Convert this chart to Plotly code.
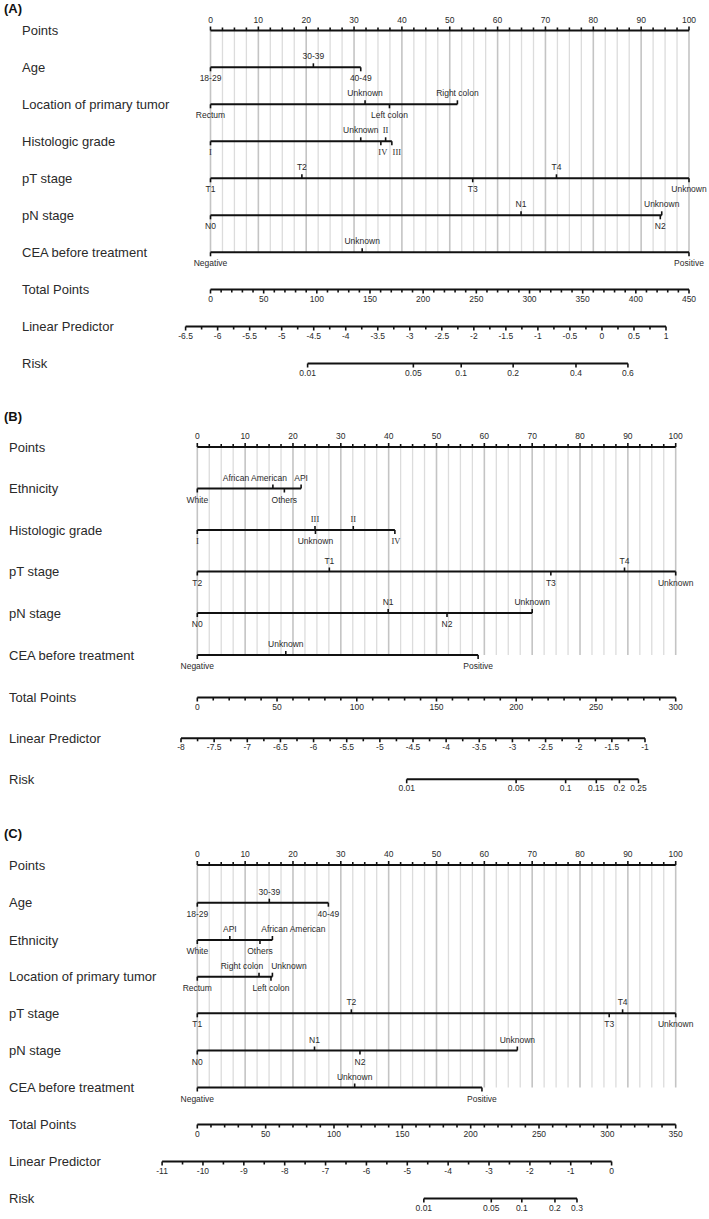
import math
import plotly.graph_objects as go

# ======================= DATA =======================
# ---- Panel A ----
A_age_lv = ["18-29", "30-39", "40-49"]
A_age_pt = [0, 21.5, 31.4]
A_age_side = ["below", "above", "below"]
A_loc_lv = ["Rectum", "Unknown", "Left colon", "Right colon"]
A_loc_pt = [0, 32.3, 37.4, 51.6]
A_loc_side = ["below", "above", "below", "above"]
A_grade_lv = ["I", "Unknown", "IV", "II", "III"]
A_grade_pt = [0, 31.4, 35.6, 36.6, 37.9]
A_grade_side = ["below", "above", "below", "above", "below"]
A_pt_lv = ["T1", "T2", "T3", "T4", "Unknown"]
A_pt_pt = [0, 19.1, 54.8, 72.3, 100]
A_pt_side = ["below", "above", "below", "above", "below"]
A_pn_lv = ["N0", "N1", "N2", "Unknown"]
A_pn_pt = [0, 64.9, 94.0, 94.3]
A_pn_side = ["below", "above", "below", "above"]
A_cea_lv = ["Negative", "Unknown", "Positive"]
A_cea_pt = [0, 31.7, 100]
A_cea_side = ["below", "above", "below"]
A_total_range = [0, 450]
A_lp_range = [-6.5, 1]
A_risk_ticks = [0.01, 0.05, 0.1, 0.2, 0.4, 0.6]

# ---- Panel B ----
B_eth_lv = ["White", "African American", "Others", "API"]
B_eth_pt = [0, 15.8, 18.2, 21.7]
B_eth_side = ["below", "above", "below", "above"]
B_grade_lv = ["I", "III", "Unknown", "II", "IV"]
B_grade_pt = [0, 24.6, 24.7, 32.6, 41.3]
B_grade_side = ["below", "above", "below", "above", "below"]
B_pt_lv = ["T2", "T1", "T3", "T4", "Unknown"]
B_pt_pt = [0, 27.6, 73.9, 89.3, 100]
B_pt_side = ["below", "above", "below", "above", "below"]
B_pn_lv = ["N0", "N1", "N2", "Unknown"]
B_pn_pt = [0, 39.9, 52.2, 70.0]
B_pn_side = ["below", "above", "below", "above"]
B_cea_lv = ["Negative", "Unknown", "Positive"]
B_cea_pt = [0, 18.5, 58.7]
B_cea_side = ["below", "above", "below"]
B_total_range = [0, 300]
B_lp_range = [-8, -1]
B_risk_ticks = [0.01, 0.05, 0.1, 0.15, 0.2, 0.25]

# ---- Panel C ----
C_age_lv = ["18-29", "30-39", "40-49"]
C_age_pt = [0, 15.05, 27.4]
C_age_side = ["below", "above", "below"]
C_eth_lv = ["White", "API", "Others", "African American"]
C_eth_pt = [0, 6.8, 13.1, 15.7]
C_eth_side = ["below", "above", "below", "above"]
C_loc_lv = ["Rectum", "Right colon", "Left colon", "Unknown"]
C_loc_pt = [0, 12.9, 15.4, 15.7]
C_loc_side = ["below", "above", "below", "above"]
C_pt_lv = ["T1", "T2", "T3", "T4", "Unknown"]
C_pt_pt = [0, 32.2, 86.1, 88.9, 100]
C_pt_side = ["below", "above", "below", "above", "below"]
C_pn_lv = ["N0", "N1", "N2", "Unknown"]
C_pn_pt = [0, 24.5, 34.0, 66.9]
C_pn_side = ["below", "above", "below", "above"]
C_cea_lv = ["Negative", "Unknown", "Positive"]
C_cea_pt = [0, 32.9, 59.5]
C_cea_side = ["below", "above", "below"]
C_total_range = [0, 350]
C_lp_range = [-11, 0]
C_risk_ticks = [0.01, 0.05, 0.1, 0.2, 0.3]

POINTS_RANGE = [0, 100]
POINTS_MAJOR = 10
POINTS_MINOR = 2.5
TOTAL_MAJOR = 50
TOTAL_MINOR = 10

# ======================= LAYOUT / STYLE =======================
W, H = 709, 1219
SANS = "Liberation Sans, Arial, Helvetica"
LABEL_FONT = "Liberation Sans, Arial, Helvetica"
SERIF = "Liberation Serif, Times New Roman, serif"
TXT = "#2a2a2a"
TICKFONT = 8.5

# label nudges (pixels) used to keep neighbouring level labels apart
NUDGE = {
    ("A", "Histologic grade", "IV"): 2,
    ("A", "Histologic grade", "III"): 5,
    ("B", "Ethnicity", "African American"): -18,
    ("B", "Histologic grade", "IV"): 1,
    ("C", "Ethnicity", "African American"): 21,
    ("C", "Location of primary tumor", "Right colon"): -17,
    ("C", "Location of primary tumor", "Unknown"): 16.5,
}

PANELS = [
    dict(key="A", letter="(A)", letter_y=8, name_x=20,
         pts_px=(210.5, 689.0), lp_px=(185.6, 666.0),
         y_points=30.5, y_vars=[67.3, 104.3, 141.3, 178.3, 215.3, 252.3],
         y_total=289.5, y_lp=326.5, y_risk=363.5,
         vars=[("Age", A_age_lv, A_age_pt, A_age_side),
               ("Location of primary tumor", A_loc_lv, A_loc_pt, A_loc_side),
               ("Histologic grade", A_grade_lv, A_grade_pt, A_grade_side),
               ("pT stage", A_pt_lv, A_pt_pt, A_pt_side),
               ("pN stage", A_pn_lv, A_pn_pt, A_pn_side),
               ("CEA before treatment", A_cea_lv, A_cea_pt, A_cea_side)],
         total=A_total_range, lp=A_lp_range, lp_major=0.5, lp_minor=0.25,
         risk=A_risk_ticks),
    dict(key="B", letter="(B)", letter_y=416.5, name_x=7,
         pts_px=(197.3, 675.7), lp_px=(181.0, 645.0),
         y_points=447.0, y_vars=[488.5, 530.0, 571.5, 613.0, 655.0],
         y_total=697.5, y_lp=738.3, y_risk=779.3,
         vars=[("Ethnicity", B_eth_lv, B_eth_pt, B_eth_side),
               ("Histologic grade", B_grade_lv, B_grade_pt, B_grade_side),
               ("pT stage", B_pt_lv, B_pt_pt, B_pt_side),
               ("pN stage", B_pn_lv, B_pn_pt, B_pn_side),
               ("CEA before treatment", B_cea_lv, B_cea_pt, B_cea_side)],
         total=B_total_range, lp=B_lp_range, lp_major=0.5, lp_minor=0.25,
         risk=B_risk_ticks),
    dict(key="C", letter="(C)", letter_y=833, name_x=7,
         pts_px=(197.3, 675.7), lp_px=(162.1, 611.6),
         y_points=865.0, y_vars=[902.7, 940.0, 976.7, 1013.3, 1050.5, 1087.5],
         y_total=1124.5, y_lp=1161.5, y_risk=1198.5,
         vars=[("Age", C_age_lv, C_age_pt, C_age_side),
               ("Ethnicity", C_eth_lv, C_eth_pt, C_eth_side),
               ("Location of primary tumor", C_loc_lv, C_loc_pt, C_loc_side),
               ("pT stage", C_pt_lv, C_pt_pt, C_pt_side),
               ("pN stage", C_pn_lv, C_pn_pt, C_pn_side),
               ("CEA before treatment", C_cea_lv, C_cea_pt, C_cea_side)],
         total=C_total_range, lp=C_lp_range, lp_major=1, lp_minor=0.5,
         risk=C_risk_ticks),
]

ROMAN = {"I", "II", "III", "IV"}
TICK_VAR = 4.0
TICK_MAJ = 4.0
TICK_MIN = 3.0
ABOVE_OFF = 10.0
BELOW_OFF = 12.0
AXLAB_OFF = 10.0


def lin(v0, v1, p0, p1):
    k = (p1 - p0) / (v1 - v0)
    return lambda v: p0 + (v - v0) * k


def frange(a, b, step):
    n = int(round((b - a) / step))
    return [a + i * step for i in range(n + 1)]


def fmt(v):
    s = f"{v:g}"
    return "0" if s == "-0" else s


def logit(p):
    return math.log(p / (1 - p))


def is_mult(v, step):
    return abs(v / step - round(v / step)) < 1e-9


fig = go.Figure()

grid_maj_x, grid_maj_y = [], []
grid_min_x, grid_min_y = [], []
axis_x, axis_y = [], []
tick_x, tick_y = [], []
txt_x, txt_y, txt_t = [], [], []
rom_x, rom_y, rom_t = [], [], []
annotations = []


def seg(xs, ys, x0, y0, x1, y1):
    xs += [x0, x1, None]
    ys += [y0, y1, None]


for P in PANELS:
    pts = lin(POINTS_RANGE[0], POINTS_RANGE[1], *P["pts_px"])
    tot = lin(P["total"][0], P["total"][1], *P["pts_px"])
    lp = lin(P["lp"][0], P["lp"][1], *P["lp_px"])
    yP = P["y_points"]
    y_last = P["y_vars"][-1]

    annotations.append(dict(x=2, y=P["letter_y"], text="<b>" + P["letter"] + "</b>",
                            xanchor="left", yanchor="middle", showarrow=False,
                            font=dict(family=LABEL_FONT, size=13, color="#111")))

    # vertical reference lines
    for v in frange(POINTS_RANGE[0], POINTS_RANGE[1], POINTS_MINOR):
        if is_mult(v, POINTS_MAJOR):
            seg(grid_maj_x, grid_maj_y, pts(v), yP, pts(v), y_last)
        else:
            seg(grid_min_x, grid_min_y, pts(v), yP, pts(v), y_last)

    # row names
    names = [("Points", yP)] + [(v[0], y) for v, y in zip(P["vars"], P["y_vars"])] + \
            [("Total Points", P["y_total"]), ("Linear Predictor", P["y_lp"]), ("Risk", P["y_risk"])]
    for nm, y in names:
        annotations.append(dict(x=P["name_x"], y=y, text=nm, xanchor="left", yanchor="middle",
                                showarrow=False, font=dict(family=LABEL_FONT, size=13, color=TXT)))

    # Points axis (labels and ticks above)
    seg(axis_x, axis_y, pts(POINTS_RANGE[0]), yP, pts(POINTS_RANGE[1]), yP)
    for v in frange(POINTS_RANGE[0], POINTS_RANGE[1], POINTS_MINOR):
        major = is_mult(v, POINTS_MAJOR)
        seg(tick_x, tick_y, pts(v), yP, pts(v), yP - (TICK_MAJ if major else TICK_MIN))
        if major:
            txt_x.append(pts(v)); txt_y.append(yP - AXLAB_OFF); txt_t.append(fmt(v))

    # variable rows
    for (nm, lvls, vals, sides), y in zip(P["vars"], P["y_vars"]):
        seg(axis_x, axis_y, pts(min(vals)), y, pts(max(vals)), y)
        for lv, v, sd in zip(lvls, vals, sides):
            x = pts(v)
            if sd == "above":
                seg(tick_x, tick_y, x, y, x, y - TICK_VAR)
                ty = y - ABOVE_OFF
            else:
                seg(tick_x, tick_y, x, y, x, y + TICK_VAR)
                ty = y + BELOW_OFF
            lx = x + NUDGE.get((P["key"], nm, lv), 0)
            if lv in ROMAN:
                rom_x.append(lx); rom_y.append(ty); rom_t.append(lv)
            else:
                txt_x.append(lx); txt_y.append(ty); txt_t.append(lv)

    # Total points axis
    yT = P["y_total"]
    seg(axis_x, axis_y, tot(P["total"][0]), yT, tot(P["total"][1]), yT)
    for v in frange(P["total"][0], P["total"][1], TOTAL_MINOR):
        major = is_mult(v, TOTAL_MAJOR)
        seg(tick_x, tick_y, tot(v), yT, tot(v), yT + (TICK_MAJ if major else TICK_MIN))
        if major:
            txt_x.append(tot(v)); txt_y.append(yT + AXLAB_OFF); txt_t.append(fmt(v))

    # Linear predictor axis
    yL = P["y_lp"]
    seg(axis_x, axis_y, lp(P["lp"][0]), yL, lp(P["lp"][1]), yL)
    for v in frange(P["lp"][0], P["lp"][1], P["lp_minor"]):
        major = is_mult(v, P["lp_major"])
        seg(tick_x, tick_y, lp(v), yL, lp(v), yL + (TICK_MAJ if major else TICK_MIN))
        if major:
            txt_x.append(lp(v)); txt_y.append(yL + AXLAB_OFF); txt_t.append(fmt(v))

    # Risk axis (logit of risk on the linear predictor scale)
    yR = P["y_risk"]
    rk = P["risk"]
    seg(axis_x, axis_y, lp(logit(rk[0])), yR, lp(logit(rk[-1])), yR)
    for r in rk:
        x = lp(logit(r))
        seg(tick_x, tick_y, x, yR, x, yR + TICK_MAJ)
        txt_x.append(x); txt_y.append(yR + AXLAB_OFF); txt_t.append(fmt(r))

fig.add_trace(go.Scatter(x=grid_min_x, y=grid_min_y, mode="lines",
                         line=dict(color="#dcdcdc", width=1.3), hoverinfo="skip"))
fig.add_trace(go.Scatter(x=grid_maj_x, y=grid_maj_y, mode="lines",
                         line=dict(color="#c4c4c4", width=1.6), hoverinfo="skip"))
fig.add_trace(go.Scatter(x=axis_x, y=axis_y, mode="lines",
                         line=dict(color="#111111", width=2), hoverinfo="skip"))
fig.add_trace(go.Scatter(x=tick_x, y=tick_y, mode="lines",
                         line=dict(color="#111111", width=1.6), hoverinfo="skip"))
fig.add_trace(go.Scatter(x=txt_x, y=txt_y, mode="text", text=txt_t, textposition="middle center",
                         textfont=dict(family=SANS, size=TICKFONT, color=TXT), hoverinfo="skip"))
fig.add_trace(go.Scatter(x=rom_x, y=rom_y, mode="text", text=rom_t, textposition="middle center",
                         textfont=dict(family=SERIF, size=TICKFONT, color=TXT), hoverinfo="skip"))

fig.update_layout(
    width=W, height=H, margin=dict(l=0, r=0, t=0, b=0),
    paper_bgcolor="white", plot_bgcolor="white", showlegend=False,
    xaxis=dict(range=[0, W], visible=False, fixedrange=True),
    yaxis=dict(range=[H, 0], visible=False, fixedrange=True),
    annotations=annotations,
)

fig.write_html("out.html", config={"displayModeBar": False},
               post_script="document.body.style.margin='0px';")
